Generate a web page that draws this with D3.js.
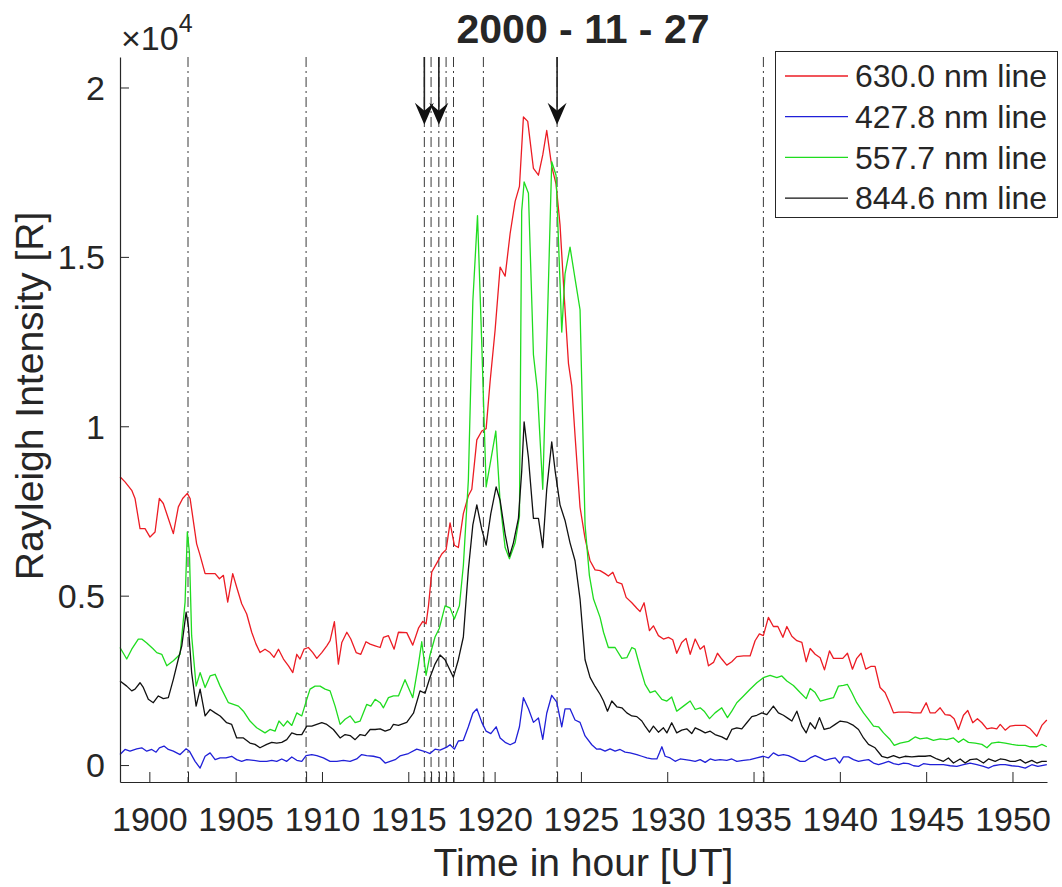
<!DOCTYPE html>
<html>
<head>
<meta charset="utf-8">
<script src="https://cdn.jsdelivr.net/npm/d3@7"></script>
<style>
  body { margin: 0; background: #fff; }
  svg { display: block; }
  text { font-family: "Liberation Sans", Arial, Helvetica, sans-serif; fill: #262626; }
</style>
</head>
<body>
<svg id="chart" width="1062" height="887"></svg>
<script>
// Time axis: minutes after 19:00 UT, labelled in HHMM form.
const xTickValues = [0, 5, 10, 15, 20, 25, 30, 35, 40, 45, 50];
const xTickLabels = ["1900", "1905", "1910", "1915", "1920", "1925", "1930", "1935", "1940", "1945", "1950"];
const yTickValues = [0, 5000, 10000, 15000, 20000];
const yTickLabels = ["0", "0.5", "1", "1.5", "2"];

// Event markers (dash-dot lines) and the arrowed ones.
const eventTimes = [2.24, 9.08, 15.93, 16.32, 16.77, 17.19, 17.62, 19.35, 23.62, 35.57];
const arrowTimes = [15.93, 16.77, 23.62];

const seriesNames = ["630.0 nm line", "427.8 nm line", "557.7 nm line", "844.6 nm line"];
const seriesColors = ["#ec1c24", "#2020d8", "#1fdc1f", "#111111"];

// 630.0 nm
const time630 = [-1.70,-1.41,-1.02,-0.83,-0.54,-0.25,0.04,0.33,0.58,0.81,1.10,1.39,1.68,1.93,2.20,2.36,2.74,2.94,3.23,3.52,3.81,4.06,4.29,4.54,4.83,5.06,5.35,5.64,5.93,6.18,6.41,6.70,6.99,7.22,7.48,7.77,8.06,8.31,8.54,8.73,8.96,9.21,9.47,9.70,9.99,10.28,10.47,10.72,10.95,11.15,11.44,11.67,11.98,12.25,12.55,12.79,13.08,13.37,13.56,13.85,14.18,14.43,
  14.91,15.26,15.59,15.84,16.03,16.17,16.36,16.65,16.94,17.19,17.42,17.67,17.90,18.19,18.48,18.68,18.97,19.26,19.51,19.74,20.03,20.32,20.61,20.90,21.19,21.44,21.67,21.92,22.25,22.54,22.79,23.02,23.31,23.56,23.79,24.05,24.28,24.47,24.66,24.95,25.24,25.53,25.82,
  26.11,26.40,26.59,26.85,27.08,27.37,27.62,27.95,28.24,28.43,28.66,28.97,29.20,29.49,29.78,30.07,30.32,30.55,30.84,31.09,31.33,31.62,31.91,32.14,32.39,32.68,32.91,33.16,33.45,33.74,34.03,34.42,34.80,35.09,35.34,35.57,35.86,36.15,36.41,36.70,36.93,37.22,37.51,37.80,38.05,38.28,38.57,38.86,39.11,39.40,39.63,39.92,40.17,40.44,40.73,40.98,41.23,41.50,41.79,42.04,42.33,42.62,42.88,43.11,43.40,43.69,43.98,44.27,44.69,45.00,45.23,45.52,45.81,46.10,46.39,46.62,46.87,47.16,47.41,47.70,47.97,48.23,48.52,48.80,49.09,49.29,49.58,49.87,50.16,50.45,50.74,51.03,51.41,51.70,51.99];
const int630 = [8510,8360,8110,7870,6980,6980,6730,6880,7870,7720,7280,6830,7620,7870,8020,7870,6530,6190,5650,5650,5650,5500,5600,4810,5650,5250,4760,4460,3920,3570,3320,3420,3320,3180,3420,3130,2930,2730,3270,3130,3420,3470,3320,3150,3320,3520,3670,4230,2980,3620,3920,3720,3320,3270,3640,3570,3520,3470,3770,3820,3420,3920,
  3910,3540,4040,4240,4170,4700,5700,5960,6230,6360,7150,6490,6420,7420,7950,8140,9600,9860,9930,11320,12840,14700,14430,15690,16640,17080,19130,19000,17610,17410,18010,18730,17670,17150,15950,13700,11850,11190,9730,7610,6690,6030,5760,
  5740,5650,5580,5690,5400,5350,4950,4790,4630,4530,4790,3970,4110,3820,3720,3770,3700,3300,3620,3740,3270,3720,3420,3520,2930,3030,3300,3130,2950,3050,3200,3220,3220,3670,3870,3820,4360,4090,4090,3770,4090,3800,3670,3620,3050,3440,3270,3170,2810,3370,3150,3150,3150,3300,2830,3150,3300,2830,2910,2910,2290,2140,1840,1540,1560,1560,1560,1540,1540,1840,1540,1540,1690,1490,1470,1370,1050,1470,1610,1250,1370,1250,1070,1100,1070,1200,1030,1150,1170,1170,1170,1070,850,1170,1330];

// 427.8 nm
const time428 = [-1.70,-1.41,-1.12,-0.73,-0.44,-0.15,0.14,0.39,0.58,0.85,1.10,1.39,1.78,2.13,2.32,2.65,2.94,3.23,3.52,3.81,4.10,4.44,4.77,5.06,5.35,5.64,6.03,6.41,6.80,7.09,7.38,7.67,7.96,8.25,8.54,8.83,9.08,9.41,9.70,10.08,10.47,10.86,11.24,11.63,12.01,12.30,12.59,12.98,13.37,13.66,13.95,14.24,
  14.52,15.01,15.49,15.97,16.26,16.55,16.84,17.23,17.42,17.67,17.90,18.19,18.48,18.74,18.97,19.26,19.51,19.78,20.09,20.32,20.61,20.90,21.19,21.44,21.67,21.96,22.25,22.54,22.79,23.02,23.31,23.60,23.89,24.08,24.37,24.66,24.95,25.24,25.63,25.92,
  26.11,26.40,26.69,26.98,27.27,27.56,27.85,28.24,28.53,28.82,29.11,29.40,29.55,29.69,29.88,30.17,30.46,30.75,31.04,31.33,31.62,31.91,32.20,32.49,32.77,33.06,33.45,33.74,34.03,34.42,34.80,35.19,35.57,35.86,36.15,36.44,36.73,37.02,37.31,37.70,37.99,38.28,38.57,38.86,39.15,39.44,39.73,39.98,40.21,40.50,40.79,41.08,41.37,41.66,41.95,42.24,42.53,42.82,43.11,43.40,43.69,43.98,44.27,44.56,44.84,45.23,45.62,46.00,46.39,46.78,47.16,47.55,47.94,48.32,48.61,48.90,49.29,49.58,49.96,50.35,50.74,51.12,51.47,51.99];
const int428 = [310,460,410,480,510,410,460,380,510,560,460,410,310,480,410,110,-90,260,360,160,210,210,260,160,110,160,140,110,110,140,110,180,110,240,140,110,280,310,280,210,110,110,140,110,180,310,280,260,210,60,110,160,
  270,340,470,400,340,470,440,530,600,470,710,730,1130,1530,1660,1260,1000,930,1130,800,670,600,670,1130,1990,1660,1260,1390,760,1530,2060,1860,1130,1660,1660,1330,1260,860,600,470,
  480,410,480,410,460,380,360,310,260,210,180,180,360,540,260,210,110,180,160,140,110,160,80,180,140,160,140,180,110,140,160,210,260,210,360,280,310,280,210,110,110,210,280,210,140,180,210,60,240,240,160,110,140,160,60,10,60,110,40,10,60,40,-20,-40,40,10,10,10,-20,-40,10,60,10,-40,-90,-20,10,10,-20,-40,-90,10,-40,10];

// 557.7 nm
const time558 = [-1.70,-1.31,-1.02,-0.64,-0.44,-0.15,0.20,0.43,0.72,1.01,1.39,1.78,2.07,2.20,2.32,2.45,2.71,2.94,3.23,3.52,3.81,4.10,4.58,4.87,5.16,5.45,5.83,6.22,6.70,6.99,7.28,7.51,7.77,8.00,8.25,8.54,8.83,9.12,9.31,9.60,9.89,10.18,10.47,10.76,11.05,11.34,11.63,11.92,12.21,12.59,12.83,13.08,13.37,13.56,13.85,14.14,14.43,
  14.81,15.26,15.59,15.78,16.03,16.26,16.55,16.80,17.13,17.42,17.67,17.96,18.19,18.48,18.74,19.01,19.26,19.51,19.78,20.07,20.32,20.61,20.86,21.19,21.44,21.57,21.71,21.96,22.25,22.48,22.79,23.02,23.31,23.56,23.79,23.89,24.08,24.37,24.66,24.95,25.24,25.49,25.73,
  26.11,26.31,26.59,26.98,27.37,27.66,27.95,28.14,28.43,28.72,29.01,29.30,29.69,29.98,30.26,30.55,30.94,31.33,31.62,31.91,32.14,32.45,32.77,33.16,33.49,33.74,34.03,34.42,34.80,35.19,35.57,35.96,36.35,36.64,36.93,37.31,37.70,38.05,38.28,38.57,38.86,39.24,39.63,39.92,40.21,40.44,40.69,40.98,41.37,41.66,41.95,42.24,42.53,42.88,43.15,43.49,43.98,44.36,44.65,45.04,45.42,45.81,46.20,46.58,46.87,47.16,47.45,47.84,48.23,48.52,48.80,49.19,49.58,49.96,50.35,50.74,51.03,51.41,51.70,51.99];
const int558 = [3470,3130,3420,3720,3720,3600,3440,3320,3270,2930,3080,3270,4810,6880,6290,3820,2330,2730,2290,2630,2680,2330,1840,1790,1740,1590,1300,1100,950,1050,1000,1300,1150,1300,1170,1540,1450,1940,2240,2330,2330,2240,2190,1740,1200,1350,1450,1250,1300,1790,1740,1940,1840,1690,1990,2040,2040,
  2520,1990,2980,3640,2650,3250,3780,4040,4700,4640,4310,4700,5890,8410,13700,16220,12380,8210,9000,9860,7750,6420,6090,6560,7350,16350,17210,16880,12110,11060,8140,12380,17810,17410,14230,12780,14500,15290,14360,13440,7090,5600,4900,
  4360,3920,3470,3470,3150,3170,3470,3420,2880,2380,2140,2190,1940,1890,2010,1590,1740,1890,1640,1690,1590,1370,1540,1690,1400,1590,1840,2040,2240,2430,2580,2650,2580,2630,2480,2350,2140,1960,2260,2140,1890,1940,1990,2330,2350,2380,2140,1840,1540,1350,1150,1130,950,770,580,650,700,830,770,800,730,770,750,800,670,770,670,650,610,510,650,680,650,610,580,580,540,540,610,540];

// 844.6 nm
const time845 = [-1.70,-1.31,-1.02,-0.83,-0.54,-0.35,-0.06,0.23,0.52,0.81,1.10,1.39,1.68,1.88,2.13,2.26,2.45,2.71,2.94,3.23,3.52,3.81,4.10,4.48,4.77,5.06,5.45,5.83,6.12,6.41,6.80,7.09,7.38,7.67,7.96,8.25,8.54,8.83,9.12,9.41,9.70,9.99,10.28,10.66,11.05,11.34,11.63,11.92,12.21,12.50,12.79,13.08,13.37,13.66,13.95,14.14,14.43,
  14.91,15.30,15.68,15.97,16.26,16.55,16.84,17.13,17.61,17.90,18.19,18.48,18.74,18.97,19.26,19.51,19.78,20.09,20.32,20.61,20.86,21.09,21.38,21.57,21.71,21.96,22.25,22.54,22.79,23.02,23.31,23.51,23.79,24.08,24.37,24.66,24.95,25.24,25.53,25.82,
  26.11,26.31,26.54,26.79,27.08,27.37,27.66,27.95,28.24,28.53,28.72,28.97,29.20,29.49,29.78,29.98,30.26,30.55,30.84,31.13,31.42,31.62,31.91,32.20,32.49,32.77,33.16,33.45,33.74,34.03,34.32,34.61,34.90,35.19,35.48,35.77,36.15,36.44,36.73,37.02,37.22,37.51,37.80,38.05,38.28,38.57,38.82,39.09,39.44,39.73,40.02,40.40,40.79,41.08,41.37,41.66,42.04,42.43,42.76,43.11,43.45,43.78,44.17,44.56,44.94,45.23,45.62,46.00,46.29,46.58,46.97,47.26,47.55,47.94,48.32,48.61,49.00,49.29,49.58,49.87,50.16,50.45,50.74,51.12,51.41,51.70,51.99];
const int845 = [2480,2330,2190,2240,2430,2290,1940,1840,2040,1960,1990,2530,3130,3520,4510,4110,2730,1740,2240,1450,1640,1540,1450,1250,1200,800,800,650,610,510,610,670,650,670,750,950,900,900,1150,1150,1200,1250,1200,1050,800,900,870,750,900,870,1050,1050,1070,1000,1050,1200,1170,
  1260,1530,2190,2120,2590,2980,3250,3110,2590,3110,3780,5760,7090,7680,6950,6490,7420,8210,7810,6820,6160,6560,7280,8670,10130,9070,7280,7280,6420,8140,9540,8670,7680,7220,6560,6030,4900,3110,2590,2320,
  2090,1890,1590,1890,1720,1690,1540,1450,1430,1300,1150,970,1150,970,1100,950,1250,950,1030,1070,930,1100,1030,950,1000,900,830,750,1050,1100,1070,1250,1430,1470,1540,1490,1740,1540,1470,1370,1300,1590,1150,950,1250,1070,1400,1050,1100,1200,1300,1270,1170,1050,800,610,510,260,210,280,210,260,240,260,260,280,180,110,210,60,180,60,160,180,60,180,110,180,160,110,110,160,60,140,60,110,110];

const times = [time630, time428, time558, time845];
const intensities = [int630, int428, int558, int845];

// ---- layout ----
const svg = d3.select("#chart");
const plot = { left: 120, right: 1047, top: 57, bottom: 782 };

const x = d3.scaleLinear().domain([-1.7, 52]).range([plot.left, plot.right]);
const y = d3.scaleLinear().domain([-500, 20900]).range([plot.bottom, plot.top]);

const axisColor = "#262626";
const fontStack = '"Liberation Sans", Arial, Helvetica, sans-serif';

// dash-dot event lines
svg.append("g").selectAll("line").data(eventTimes).join("line")
  .attr("x1", d => x(d)).attr("x2", d => x(d))
  .attr("y1", plot.top).attr("y2", plot.bottom)
  .attr("stroke", "#3a3a3a").attr("stroke-width", 1)
  .attr("stroke-dasharray", "10,4,2,4");

// series
const line = d3.line().x(d => x(d[0])).y(d => y(d[1]));
svg.append("g").selectAll("path").data(seriesNames).join("path")
  .attr("d", (d, i) => line(d3.zip(times[i], intensities[i])))
  .attr("fill", "none")
  .attr("stroke", (d, i) => seriesColors[i])
  .attr("stroke-width", 1.3)
  .attr("stroke-linejoin", "round");

// x axis (ticks inside, on labelled positions and event lines)
const xAxis = d3.axisBottom(x)
  .tickValues(xTickValues.concat(eventTimes))
  .tickSizeInner(-10).tickSizeOuter(0)
  .tickFormat(d => { const k = xTickValues.indexOf(d); return k >= 0 ? xTickLabels[k] : ""; });
const gx = svg.append("g").attr("transform", `translate(0,${plot.bottom})`).call(xAxis);
gx.select(".domain").attr("stroke", axisColor).attr("stroke-width", 1.2);
gx.selectAll(".tick line").attr("stroke", axisColor);
gx.selectAll(".tick text").attr("font-size", 34).attr("dy", null).attr("y", 49).attr("fill", axisColor)
  .style("font-family", fontStack);

// y axis
const yAxis = d3.axisLeft(y)
  .tickValues(yTickValues).tickSizeInner(-9).tickSizeOuter(0)
  .tickFormat((d, i) => yTickLabels[i]);
const gy = svg.append("g").attr("transform", `translate(${plot.left},0)`).call(yAxis);
gy.select(".domain").attr("stroke", axisColor).attr("stroke-width", 1.2);
gy.selectAll(".tick line").attr("stroke", axisColor);
gy.selectAll(".tick text").attr("font-size", 34).attr("x", -15).attr("dy", "0.35em").attr("fill", axisColor)
  .style("font-family", fontStack);

// exponent label
const ex = svg.append("text").attr("x", 121).attr("y", 50).attr("font-size", 34);
ex.append("tspan").text("\u00d710");
ex.append("tspan").attr("font-size", 25).attr("dy", -18).text("4");

// axis titles
svg.append("text").attr("x", (plot.left + plot.right) / 2).attr("y", 876)
  .attr("text-anchor", "middle").attr("font-size", 39).text("Time in hour [UT]");
svg.append("text").attr("transform", "translate(43,396) rotate(-90)")
  .attr("text-anchor", "middle").attr("font-size", 39).text("Rayleigh Intensity [R]");

// title
svg.append("text").attr("x", 583).attr("y", 43).attr("text-anchor", "middle")
  .attr("font-size", 41).attr("font-weight", "bold").attr("fill", "#000").text("2000 - 11 - 27");

// arrows
const arrowTip = 18900;
const ga = svg.append("g");
arrowTimes.forEach(t => {
  const ax = x(t), yt = y(arrowTip);
  ga.append("line").attr("x1", ax).attr("x2", ax).attr("y1", plot.top).attr("y2", yt - 8)
    .attr("stroke", "#222").attr("stroke-width", 1.6);
  ga.append("path")
    .attr("d", `M${ax},${yt} L${ax - 9.5},${yt - 22} L${ax},${yt - 14} L${ax + 9.5},${yt - 22} Z`)
    .attr("fill", "#111");
});

// legend
const lg = svg.append("g");
lg.append("rect").attr("x", 775.5).attr("y", 51.5).attr("width", 282).attr("height", 166)
  .attr("fill", "#fff").attr("stroke", "#262626").attr("stroke-width", 1);
seriesNames.forEach((name, i) => {
  const cy = 76 + i * 40.7;
  lg.append("line").attr("x1", 785).attr("x2", 848).attr("y1", cy).attr("y2", cy)
    .attr("stroke", seriesColors[i]).attr("stroke-width", 1.3);
  lg.append("text").attr("x", 855).attr("y", cy).attr("dy", "0.35em")
    .attr("font-size", 32).attr("fill", "#000").text(name);
});
</script>
</body>
</html>
